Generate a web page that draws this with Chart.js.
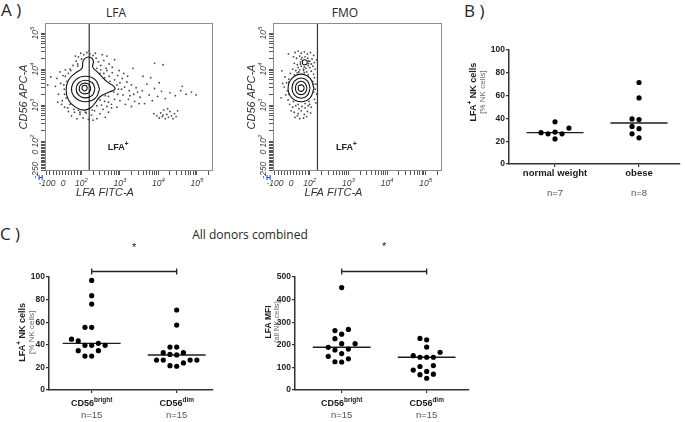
<!DOCTYPE html>
<html>
<head>
<meta charset="utf-8">
<title>LFA-1 on NK cells</title>
<script src="https://cdn.jsdelivr.net/npm/chart.js@4.4.1/dist/chart.umd.min.js"></script>
<style>
  html, body { margin: 0; padding: 0; background: #fff; }
  body { position: relative; width: 685px; height: 422px; overflow: hidden; font-family: "Open Sans", sans-serif; color: #262626; }
  .panel { position: absolute; }
  .txt { position: absolute; line-height: 1; white-space: nowrap; }
  .mark { position: absolute; font: bold 7px "Liberation Sans", Arial, sans-serif; color: #2446c8; }
</style>
</head>
<body>
<div class="txt" style="left:1px;top:1px;font-size:17px">A )</div>
<div class="txt" style="left:116px;top:7px;font-size:12px;transform:translateX(-50%)">LFA</div>
<div class="txt" style="left:345px;top:7px;font-size:12px;transform:translateX(-50%)">FMO</div>
<div class="txt" style="left:464px;top:2px;font-size:17px">B )</div>
<div class="txt" style="left:0px;top:225px;font-size:17px">C )</div>
<div class="txt" style="left:250px;top:229px;font-size:12px;transform:translateX(-50%)">All donors combined</div>
<div class="mark" style="left:38px;top:174px">H</div>
<div class="mark" style="left:266px;top:174px">H</div>

<div class="panel" style="left:0;top:0;width:230px;height:200px"><canvas id="lfaPlot"></canvas></div>
<div class="panel" style="left:230px;top:0;width:230px;height:200px"><canvas id="fmoPlot"></canvas></div>
<div class="panel" style="left:455px;top:30px;width:230px;height:175px"><canvas id="bmiPlot"></canvas></div>
<div class="panel" style="left:0;top:236px;width:240px;height:186px"><canvas id="pctPlot"></canvas></div>
<div class="panel" style="left:250px;top:236px;width:230px;height:186px"><canvas id="mfiPlot"></canvas></div>

<script>
// ---- panel B: LFA+ NK cells by BMI group
const groupsB = ["normal weight", "obese"];
const countsB = ["n=7", "n=8"];
const normalWeight = [37, 28, 31.5, 26.5, 22, 26.5, 27.5];
const obese = [71.5, 58, 39, 39.5, 33, 31, 23, 26.5];

// ---- panel C: all donors, CD56 subsets
const subsetsC = ["CD56^bright", "CD56^dim"];
const countsC = ["n=15", "n=15"];
const brightPct = [97, 83.5, 76, 55.5, 55.5, 45, 43.4, 41.3, 39.5, 39.5, 39.5, 34.8, 34.8, 30, 30];
const dimPct = [70.8, 57.5, 38, 38, 33, 33, 31.5, 31, 26.5, 26.5, 26.5, 26.5, 24, 21.5, 21];
const brightMfi = [453, 268, 263, 247, 227, 205, 205, 189, 181, 177, 161, 149, 138, 125, 124];
const dimMfi = [228, 222, 190, 167, 152, 145, 145, 145, 108, 104, 88, 82, 70, 68, 52];

// ---- panel A: flow plots, values in decades of the biexponential display
const flowXTicks = [1.1, 1.52, 2, 3, 4, 5];
const flowXLabels = ["-100", "0", "10^2", "10^3", "10^4", "10^5"];
const flowYTicks = [1.19, 1.69, 2, 3, 4, 5];
const flowYLabels = ["-250", "0", "10^2", "10^3", "10^4", "10^5"];
const flowXTitle = "LFA FITC-A";
const flowYTitle = "CD56 APC-A";
const gateLabel = "LFA^+";
const gateLFA = 2.2;

const lfaRings = [
  [[2.03,4.16],[2.05,4.25],[2.15,4.33],[2.27,4.30],[2.31,4.20],[2.29,4.06],[2.40,3.93],[2.53,3.79],[2.66,3.65],[2.83,3.53],[2.87,3.44],[2.74,3.37],[2.48,3.23],[2.35,3.05],[2.22,2.91],[2.05,2.86],[1.83,2.95],[1.66,3.14],[1.60,3.42],[1.66,3.69],[1.83,3.88],[2.01,4.02]],
  [[2.47,3.44],[2.36,3.70],[2.10,3.80],[1.85,3.70],[1.74,3.44],[1.85,3.19],[2.10,3.09],[2.36,3.19]],
  [[2.35,3.45],[2.28,3.62],[2.10,3.69],[1.93,3.62],[1.86,3.45],[1.93,3.27],[2.10,3.20],[2.28,3.27]],
  [[2.24,3.46],[2.20,3.57],[2.09,3.61],[1.98,3.57],[1.94,3.46],[1.98,3.35],[2.09,3.31],[2.20,3.35]],
  [[2.15,3.47],[2.13,3.53],[2.08,3.55],[2.03,3.53],[2.01,3.47],[2.03,3.42],[2.08,3.39],[2.13,3.42]]
];
const lfaEvents = [
  [1.78,4.10],[1.86,4.22],[1.92,4.34],[1.98,4.44],[2.06,4.40],[2.14,4.46],[2.22,4.42],[2.30,4.38],[2.38,4.30],[2.44,4.20],
  [2.50,4.10],[2.58,4.24],[2.66,4.36],[2.72,4.14],[2.80,4.05],[1.90,4.08],[2.00,4.28],[2.36,4.44],[2.54,4.40],[2.86,4.26],
  [1.32,3.52],[1.36,3.74],[1.40,3.30],[1.44,3.92],[1.46,3.60],[1.50,3.12],[1.52,3.82],[1.55,3.44],[1.58,3.98],[1.60,3.20],
  [1.62,3.66],[1.48,3.02],[1.38,3.08],[1.66,3.88],[1.70,4.00],[1.56,2.94],
  [1.66,2.82],[1.74,2.70],[1.82,2.80],[1.88,2.62],[1.96,2.74],[2.04,2.64],[2.12,2.78],[2.18,2.60],[2.26,2.72],[2.34,2.84],
  [2.40,2.62],[2.48,2.76],[2.56,2.88],[2.62,2.66],[2.70,2.80],[2.78,2.92],[1.92,2.86],[2.30,2.58],
  [2.50,3.98],[2.58,3.88],[2.66,3.96],[2.72,3.80],[2.80,3.90],[2.86,3.70],[2.94,3.82],[3.00,3.62],[3.06,3.74],[3.12,3.50],
  [3.18,3.64],[3.24,3.40],[3.30,3.56],[3.36,3.30],[3.42,3.48],[2.94,3.30],[3.00,3.12],[3.08,3.28],[3.14,3.02],[3.22,3.16],
  [3.30,2.96],[3.38,3.10],[2.60,3.10],[2.70,3.24],[2.78,3.02],[2.86,3.16],[2.66,2.96],[2.92,2.94],[3.04,3.44],[2.98,3.96],[3.10,3.88],
  [3.52,3.22],[3.58,3.40],[3.64,3.04],[3.70,3.58],[3.76,3.28],[3.84,3.12],[3.90,3.46],[3.98,3.24],[4.08,3.38],[4.18,3.18],
  [4.30,3.34],[4.44,3.26],[4.58,3.40],[4.72,3.30],[4.86,3.36],[4.98,3.28],[3.80,3.76],[4.02,3.62],
  [3.96,2.70],[4.02,2.64],[4.06,2.78],[4.10,2.68],[4.14,2.86],[4.18,2.62],[4.22,2.74],[4.26,2.66],[4.30,2.82],[4.34,2.70],
  [4.38,2.62],[4.42,2.76],[4.46,2.68],[4.12,2.72],[4.24,2.90],[4.50,2.84],[3.88,2.76],
  [3.90,4.16],[4.12,4.12],[4.62,3.52],[1.12,3.56],[1.20,3.78],[3.34,4.02],[3.60,3.80],
  [1.56,3.30],[1.54,3.56],[1.58,3.80],[1.72,3.96],[1.90,4.14],[2.40,4.02],[2.48,3.88],[2.60,3.76],[2.74,3.66],[2.92,3.56],
  [2.96,3.44],[2.84,3.36],[2.62,3.26],[2.48,3.14],[2.40,2.98],[2.28,2.86],[2.10,2.80],[1.96,2.80],[1.80,2.88],[1.70,3.02],
  [1.64,2.92],[2.52,3.00],[2.70,3.08],[3.20,3.80],[3.26,3.26],[3.46,3.36],[3.50,3.04],[2.20,4.50],[1.84,4.36],[2.64,4.02]
];

const fmoRings = [
  [[2.11,3.47],[2.01,3.74],[1.78,3.86],[1.54,3.74],[1.44,3.47],[1.54,3.20],[1.78,3.09],[2.01,3.20]],
  [[2.01,3.47],[1.94,3.67],[1.78,3.75],[1.61,3.67],[1.54,3.47],[1.61,3.27],[1.78,3.19],[1.94,3.27]],
  [[1.93,3.47],[1.88,3.60],[1.78,3.66],[1.67,3.60],[1.63,3.47],[1.67,3.34],[1.78,3.29],[1.88,3.34]],
  [[1.86,3.47],[1.83,3.54],[1.78,3.56],[1.72,3.54],[1.70,3.47],[1.72,3.41],[1.78,3.38],[1.83,3.41]],
  [[1.94,4.19],[1.92,4.24],[1.87,4.26],[1.82,4.24],[1.81,4.19],[1.82,4.14],[1.87,4.12],[1.92,4.14]]
];
const fmoEvents = [
  [1.62,4.46],[1.70,4.50],[1.78,4.44],[1.86,4.48],[1.94,4.42],[2.02,4.46],[2.10,4.38],
  [1.58,4.34],[1.66,4.30],[1.74,4.36],[1.78,4.27],[1.95,4.30],[2.00,4.22],[2.06,4.28],[2.12,4.18],
  [1.60,4.16],[1.68,4.12],[1.76,4.20],[1.78,4.08],[1.86,4.06],[1.96,4.10],[2.00,4.04],[2.08,4.08],[2.14,4.00],
  [1.56,4.00],[1.64,3.96],[1.72,3.92],[1.84,3.96],[1.92,3.92],[2.04,3.94],[2.10,3.86],[1.50,3.88],
  [1.36,3.78],[1.40,3.62],[1.34,3.50],[1.42,3.40],[1.38,3.28],[1.44,3.14],[1.30,3.60],[1.46,3.72],
  [2.12,3.76],[2.16,3.58],[2.14,3.44],[2.18,3.30],[2.12,3.16],[2.08,3.66],[2.16,3.06],
  [1.48,3.02],[1.56,2.94],[1.64,2.98],[1.72,2.90],[1.80,2.96],[1.88,2.92],[1.96,2.98],[2.04,2.94],
  [1.52,2.84],[1.60,2.80],[1.70,2.76],[1.78,2.84],[1.86,2.74],[1.94,2.82],[2.02,2.78],
  [1.62,2.66],[1.74,2.62],[1.84,2.64],[1.92,2.68],[1.68,2.70],
  [1.28,3.95],[1.26,3.20],[2.18,4.25],[1.45,4.42],
  [1.80,4.32],[1.88,4.34],[1.96,4.22],[1.97,4.16],[1.76,4.14],[1.84,4.00],[1.90,4.02],[1.70,4.04],[2.04,4.14],[1.74,3.98],
  [1.46,3.64],[1.46,3.30],[2.10,3.36],[2.10,3.58],[1.58,3.10],[1.70,3.02],[1.88,3.04],[1.98,3.10],[1.60,3.84],[1.96,3.84],
  [1.68,3.90],[1.86,3.90],[2.00,3.02]
];

const FONT = '"Liberation Sans", Arial, sans-serif';

// "a^b^c": odd pieces are superscript; drawn centred on x, middle on y
function richText(ctx, s, x, y, o) {
  const pieces = s.split("^");
  const size = o.size, supSize = size * 0.72;
  const f = sup => `${o.style || "normal"} ${o.weight || "normal"} ${sup ? supSize : size}px ${FONT}`;
  const widths = pieces.map((p, i) => { ctx.font = f(i % 2); return ctx.measureText(p).width; });
  let cx = x - widths.reduce((a, b) => a + b, 0) / 2;
  ctx.fillStyle = o.color;
  ctx.textAlign = "left";
  ctx.textBaseline = "middle";
  pieces.forEach((p, i) => {
    ctx.font = f(i % 2);
    ctx.fillText(p, cx, i % 2 ? y - size * 0.38 : y);
    cx += widths[i];
  });
}

function rotated(ctx, s, x, y, o) {
  ctx.save();
  ctx.translate(x, y);
  ctx.rotate(-Math.PI / 2);
  richText(ctx, s, 0, 0, o);
  ctx.restore();
}

const flowDecor = {
  id: "flowDecor",
  afterDraw(chart, args, o) {
    const { ctx, chartArea: a, scales: { x, y } } = chart;
    ctx.save();
    ctx.strokeStyle = "#8c8c8c";
    ctx.lineWidth = 1;
    ctx.strokeRect(a.left + 0.5, a.top + 0.5, a.width - 1, a.height - 1);
    const tick = { size: 8.5, style: "italic", color: "#3a3a3a" };
    flowXTicks.forEach((v, i) => richText(ctx, flowXLabels[i], x.getPixelForValue(v), a.bottom + 13, tick));
    flowYTicks.forEach((v, i) => rotated(ctx, flowYLabels[i], a.left - 9, y.getPixelForValue(v), tick));
    const title = { size: 11, style: "italic", color: "#333" };
    richText(ctx, flowXTitle, (a.left + a.right) / 2 - 24, a.bottom + 22, title);
    rotated(ctx, flowYTitle, a.left - 21.5, (a.top + a.bottom) / 2, title);
    richText(ctx, gateLabel, x.getPixelForValue(o.labelAt[0]), y.getPixelForValue(o.labelAt[1]),
      { size: 9, weight: "bold", color: "#222" });
    ctx.restore();
  }
};

function flowTicks(major, step, min, max) {
  const out = [];
  for (let t = major[0]; t < 2; t += step) out.push(t);
  for (let n = 2; n <= 5; n++) for (let k = 1; k <= 9; k++) out.push(n + Math.log10(k));
  return out.filter(v => v >= min && v <= max).map(value => ({ value }));
}

function flowChart(id, events, rings, yw, padRight) {
  const xMin = 1.05, xMax = 5.42, yMin = 1.167, yMax = 5.28;
  const datasets = [
    { data: events.map(([x, y]) => ({ x, y })), pointRadius: 0.9, backgroundColor: "#4a4a4a", borderWidth: 0 },
    ...rings.map(r => ({
      type: "line", data: r.concat([r[0]]).map(([x, y]) => ({ x, y })),
      borderColor: "#111", borderWidth: 1.1, pointRadius: 0, tension: 0.45, fill: false
    })),
    { type: "line", data: [{ x: gateLFA, y: yMin }, { x: gateLFA, y: yMax }], borderColor: "#333", borderWidth: 1.2, pointRadius: 0 }
  ];
  return new Chart(document.getElementById(id), {
    type: "scatter",
    data: { datasets },
    options: {
      animation: false, responsive: true, maintainAspectRatio: false, events: [],
      layout: { padding: { top: 23, right: padRight, left: 0, bottom: 0 } },
      plugins: { legend: { display: false }, tooltip: { enabled: false }, flowDecor: { labelAt: [2.95, 1.83] } },
      scales: {
        x: {
          type: "linear", min: xMin, max: xMax,
          afterBuildTicks: s => { s.ticks = flowTicks(flowXTicks, 0.08, xMin, xMax); },
          afterFit: s => { s.height = 29; },
          ticks: { display: false },
          grid: { drawOnChartArea: false, tickLength: 4, color: "#555", lineWidth: 1 },
          border: { display: false }
        },
        y: {
          type: "linear", min: yMin, max: yMax,
          afterBuildTicks: s => { s.ticks = flowTicks(flowYTicks, 0.04, yMin, yMax); },
          afterFit: s => { s.width = yw; },
          ticks: { display: false },
          grid: { drawOnChartArea: false, tickLength: 4, color: "#555", lineWidth: 1 },
          border: { display: false }
        }
      }
    },
    plugins: [flowDecor]
  });
}

const dotDecor = {
  id: "dotDecor",
  afterDraw(chart, args, o) {
    const { ctx, chartArea: a, scales: { x, y } } = chart;
    ctx.save();
    o.names.forEach((s, i) => {
      const px = x.getPixelForValue(i + 1);
      richText(ctx, s, px, a.bottom + o.nameGap, { size: o.nameSize, weight: "bold", color: "#1a1a1a" });
      richText(ctx, o.counts[i], px, a.bottom + o.countGap, { size: 9.5, color: "#555" });
    });
    const cy = y.getPixelForValue(o.titleAt);
    o.title.forEach(ln => rotated(ctx, ln.text, ln.x, cy, ln));
    if (o.bracket) {
      const x1 = x.getPixelForValue(1), x2 = x.getPixelForValue(2), by = Math.round(y.getPixelForValue(o.bracket.at)) + 0.5;
      ctx.strokeStyle = "#222";
      ctx.lineWidth = 1.3;
      ctx.beginPath();
      ctx.moveTo(x1, by); ctx.lineTo(x2, by);
      ctx.moveTo(x1, by - 3); ctx.lineTo(x1, by + 3);
      ctx.moveTo(x2, by - 3); ctx.lineTo(x2, by + 3);
      ctx.stroke();
      richText(ctx, "*", (x1 + x2) / 2, y.getPixelForValue(o.bracket.star), { size: 11, color: "#222" });
    }
    ctx.restore();
  }
};

function median(v) {
  const s = [...v].sort((a, b) => a - b), m = s.length >> 1;
  return s.length % 2 ? s[m] : (s[m - 1] + s[m]) / 2;
}

// scatter dot plot layout: close values spread sideways so dots do not overlap
function swarm(values, center, pxPerUnit, step) {
  const placed = [];
  [...values].sort((a, b) => a - b).forEach(v => {
    for (let k = 0; ; k++) {
      const slot = k % 2 ? -(k + 1) / 2 : k / 2;
      if (!placed.some(p => p.slot === slot && Math.abs(p.y - v) * pxPerUnit < 6.5)) {
        placed.push({ slot, y: v });
        break;
      }
    }
  });
  return placed.map(p => ({ x: center + p.slot * step, y: p.y }));
}

function dotChart(id, groups, o) {
  const dots = groups.flatMap((g, i) => swarm(g, i + 1, o.pxPerUnit, o.step));
  const medians = groups.map((g, i) => ({
    type: "line",
    data: [{ x: i + 1 - 0.34, y: median(g) }, { x: i + 1 + 0.34, y: median(g) }],
    borderColor: "#1e1e1e", borderWidth: 1.4, pointRadius: 0
  }));
  return new Chart(document.getElementById(id), {
    type: "scatter",
    data: { datasets: [{ data: dots, pointRadius: 2.6, backgroundColor: "#000", borderColor: "#000", borderWidth: 0 }, ...medians] },
    options: {
      animation: false, responsive: true, maintainAspectRatio: false, events: [],
      layout: { padding: { top: o.top, right: o.right, left: 0, bottom: 0 } },
      plugins: { legend: { display: false }, tooltip: { enabled: false }, dotDecor: o.decor },
      scales: {
        x: {
          type: "linear", min: o.xRange[0], max: o.xRange[1],
          afterBuildTicks: s => { s.ticks = [{ value: 1 }, { value: 2 }]; },
          afterFit: s => { s.height = o.xh; },
          ticks: { display: false },
          grid: { drawOnChartArea: false, tickLength: 3, color: "#333", lineWidth: 1.2 },
          border: { color: "#333", width: 1.5 }
        },
        y: {
          min: 0, max: o.yMax,
          afterFit: s => { s.width = o.yw; },
          ticks: { stepSize: o.yStep, padding: 1, color: "#222", font: { family: FONT, size: 8.5, weight: "bold" } },
          grid: { drawOnChartArea: false, tickLength: 3, color: "#333", lineWidth: 1.2 },
          border: { color: "#333", width: 1.5 }
        }
      }
    },
    plugins: [dotDecor]
  });
}

flowChart("lfaPlot", lfaEvents, lfaRings, 45, 17);
flowChart("fmoPlot", fmoEvents, fmoRings, 43, 18);

const pctTitle = [
  { text: "LFA^+^ NK cells", size: 9, weight: "bold", color: "#222" },
  { text: "[% NK cells]", size: 8, color: "#666" }
];

dotChart("bmiPlot", [normalWeight, obese], {
  top: 20, right: 5, yw: 54, xh: 41, xRange: [0.452, 2.488], yMax: 100, yStep: 20, pxPerUnit: 1.14, step: 0.083,
  decor: { names: groupsB, counts: countsB, nameGap: 9, countGap: 29, nameSize: 9.5, titleAt: 63,
    title: [{ ...pctTitle[0], x: 19 }, { ...pctTitle[1], x: 28 }] }
});

dotChart("pctPlot", [brightPct, dimPct], {
  top: 41, right: 27, yw: 49, xh: 32, xRange: [0.498, 2.427], yMax: 100, yStep: 20, pxPerUnit: 1.13, step: 0.079,
  decor: { names: subsetsC, counts: countsC, nameGap: 14, countGap: 25, nameSize: 9, titleAt: 51,
    title: [{ ...pctTitle[0], x: 23 }, { ...pctTitle[1], x: 31.5 }], bracket: { at: 105, star: 126 } }
});

dotChart("mfiPlot", [brightMfi, dimMfi], {
  top: 41, right: 11, yw: 45, xh: 32, xRange: [0.451, 2.498], yMax: 500, yStep: 100, pxPerUnit: 0.226, step: 0.079,
  decor: { names: subsetsC, counts: countsC, nameGap: 14, countGap: 25, nameSize: 9, titleAt: 301,
    title: [{ text: "LFA MFI", size: 8.5, weight: "bold", color: "#222", x: 19 },
            { text: "(all NK cells)", size: 7.5, color: "#666", x: 27 }],
    bracket: { at: 526, star: 633 } }
});
</script>
</body>
</html>
